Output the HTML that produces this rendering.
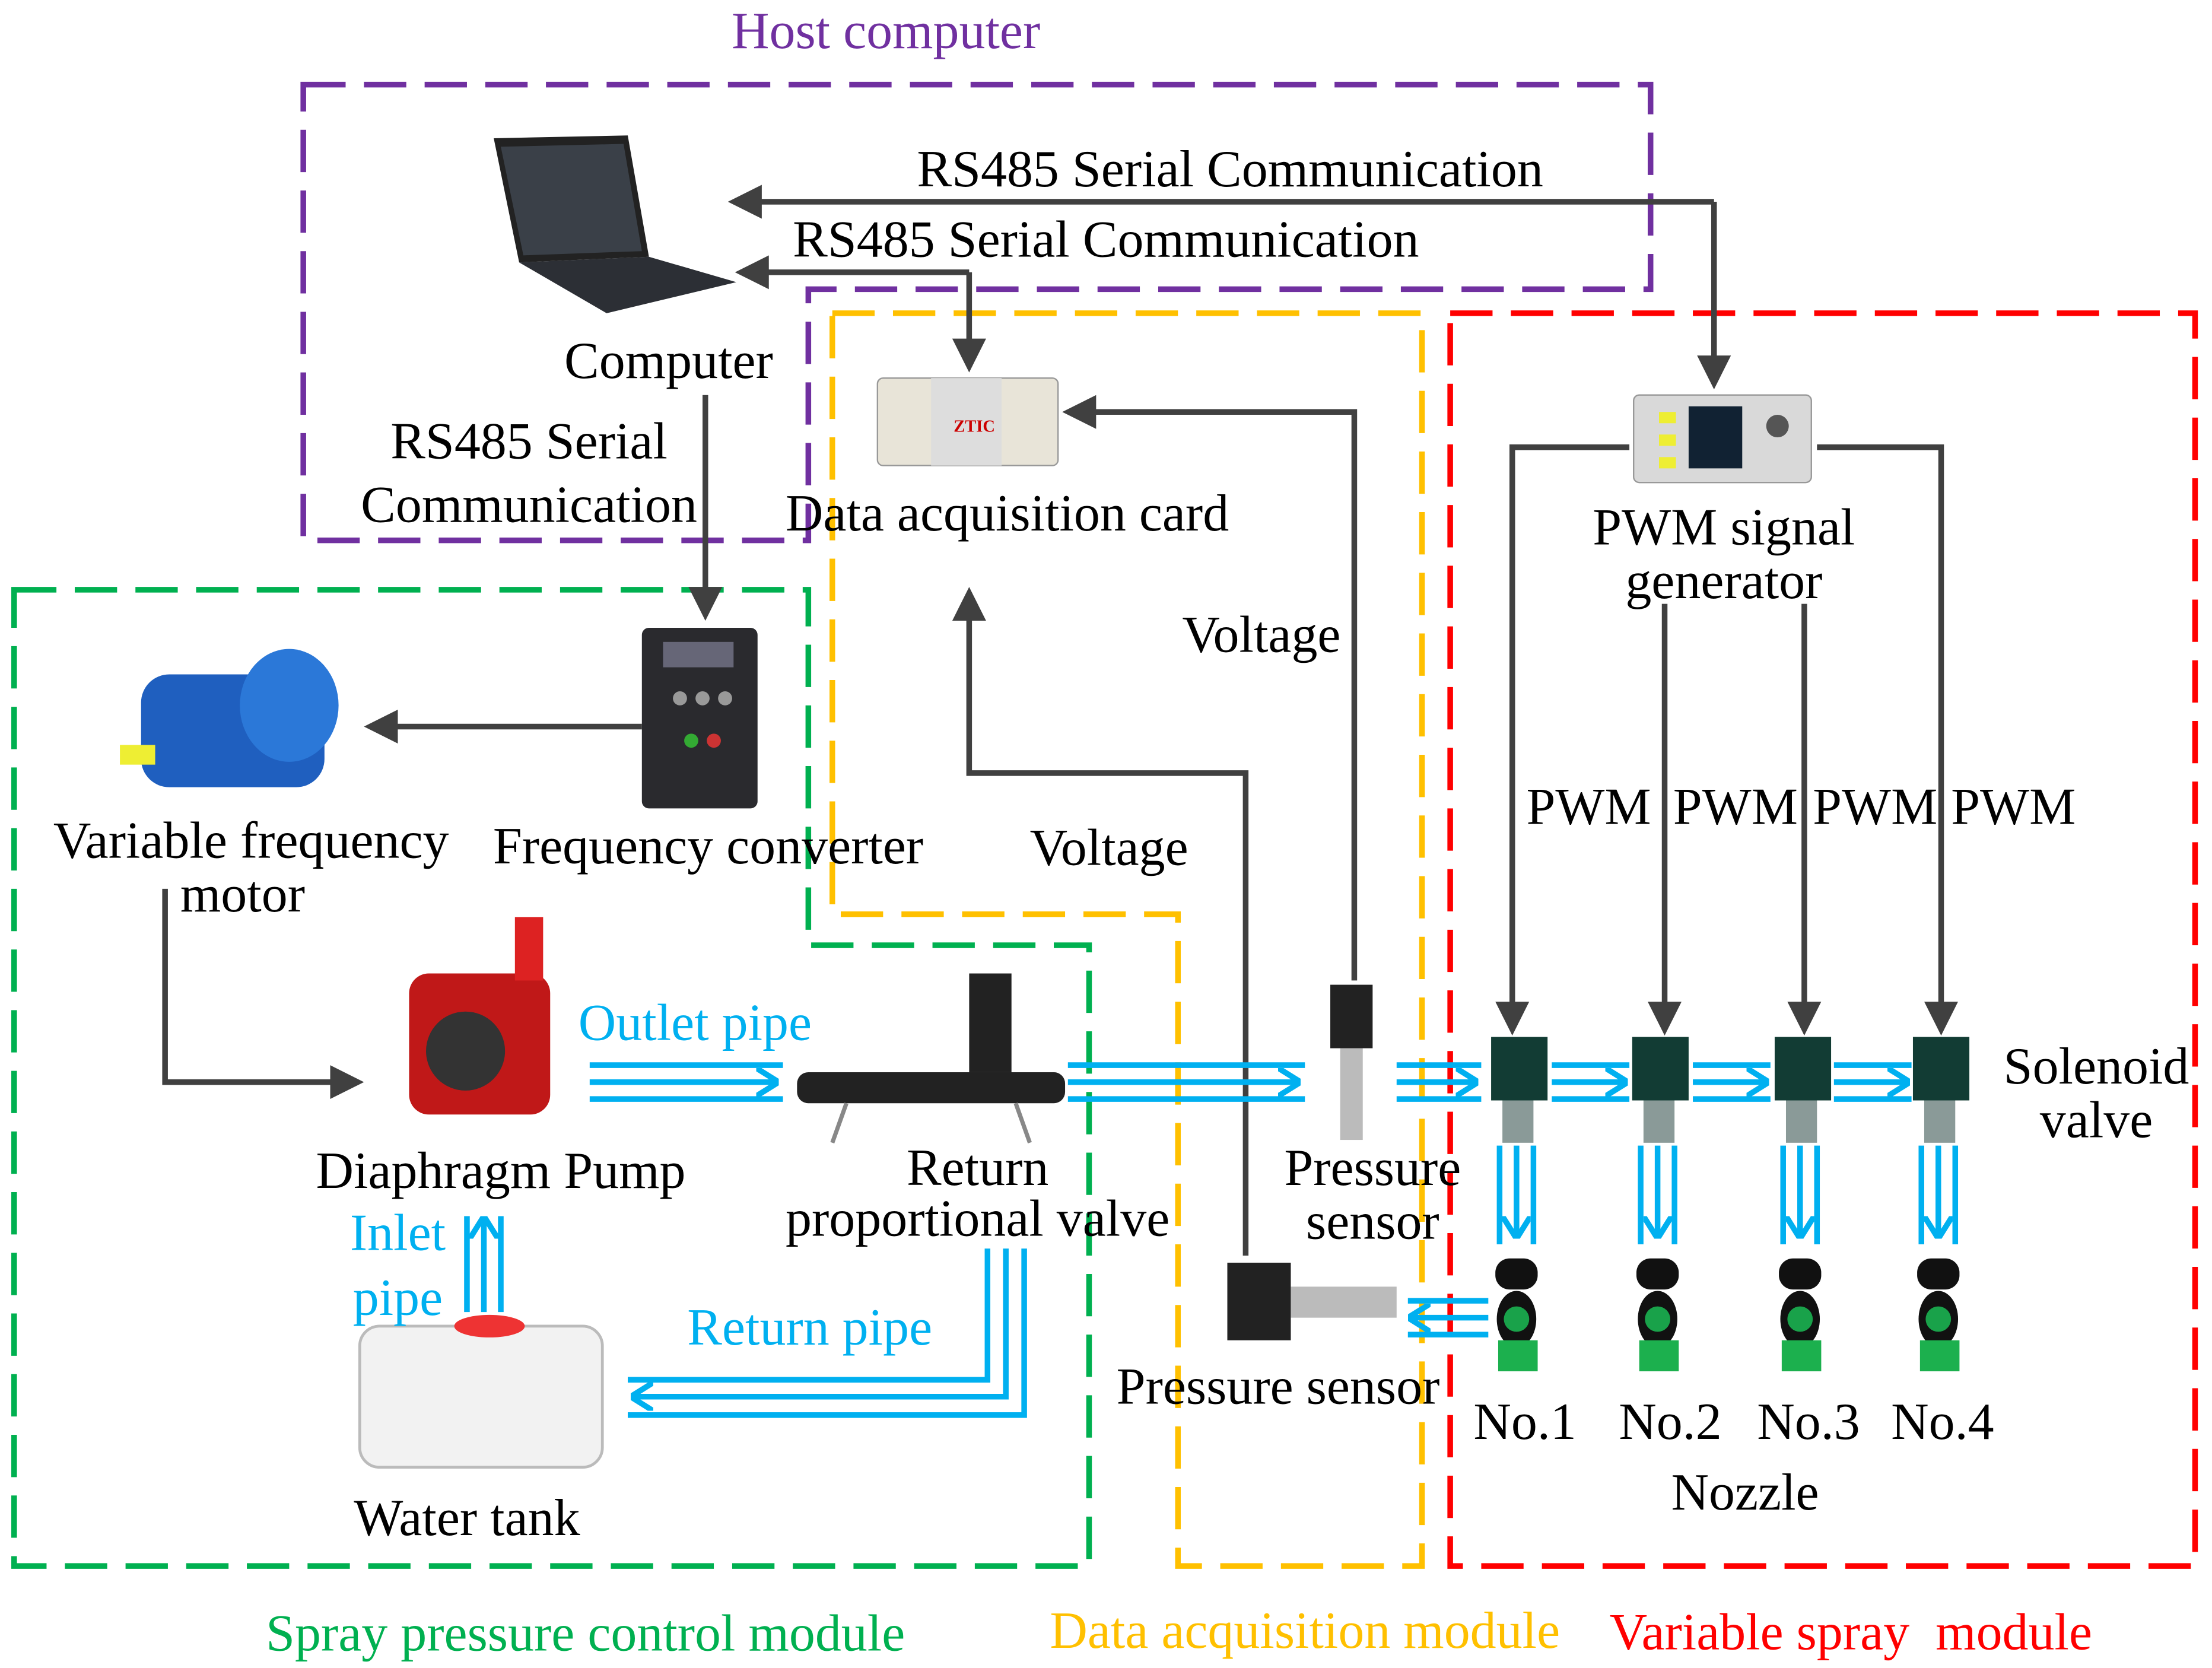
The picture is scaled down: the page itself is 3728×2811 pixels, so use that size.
<!DOCTYPE html>
<html><head><meta charset="utf-8"><style>
html,body{margin:0;padding:0;background:#fff;width:3728px;height:2811px;overflow:hidden}
svg{display:block}
text{font-family:"Liberation Serif",serif;font-size:37px}
</style></head><body>
<svg width="3728" height="2811" viewBox="0 0 1568 1182.3" preserveAspectRatio="none" xmlns="http://www.w3.org/2000/svg">
<defs>
<marker id="ag" markerWidth="6" markerHeight="6" refX="5" refY="3" orient="auto" markerUnits="strokeWidth"><path d="M0,0 L6,3 L0,6 z" fill="#404040"/></marker>
<marker id="ab" markerWidth="4" markerHeight="5" refX="3.5" refY="2.5" orient="auto" markerUnits="strokeWidth"><path d="M0,0 L4,2.5 L0,5" fill="none" stroke="#00b0f0" stroke-width="1"/></marker>
</defs>
<rect width="1568" height="1183" fill="#fff"/>
<g fill="none" stroke-width="4" stroke-dasharray="30 13">
<path d="M215,60 H1170 V205 H573 V383 H215 Z" stroke="#7030a0"/>
<path d="M590,222 H1008 V1110 H835 V648 H590 Z" stroke="#ffc000"/>
<path d="M10,418 H573 V670 H772 V1110 H10 Z" stroke="#00b050"/>
<path d="M1028,222 H1556 V1110 H1028 Z" stroke="#ff0000"/>
</g>
<g fill="none" stroke="#404040" stroke-width="4">
<path d="M1215,143 H520" marker-end="url(#ag)"/>
<path d="M1215,143 V272" marker-end="url(#ag)"/>
<path d="M687,193 H525" marker-end="url(#ag)"/>
<path d="M687,193 V260" marker-end="url(#ag)"/>
<path d="M500,280 V436" marker-end="url(#ag)"/>
<path d="M455,515 H262" marker-end="url(#ag)"/>
<path d="M117,630 V767 H254" marker-end="url(#ag)"/>
<path d="M960,695 V292 H757" marker-end="url(#ag)"/>
<path d="M883,890 V548 H687 V420" marker-end="url(#ag)"/>
<path d="M1155,317 H1072 V730" marker-end="url(#ag)"/>
<path d="M1288,317 H1376 V730" marker-end="url(#ag)"/>
<path d="M1180,428 V730" marker-end="url(#ag)"/>
<path d="M1279,428 V730" marker-end="url(#ag)"/>
</g>
<g fill="none" stroke="#00b0f0" stroke-width="4">
<path d="M418,755 H555 M418,779 H555"/><path d="M418,767 H550" marker-end="url(#ab)"/>
<path d="M757,755 H925 M757,779 H925"/><path d="M757,767 H920" marker-end="url(#ab)"/>
<path d="M990,755 H1050 M990,779 H1050"/><path d="M990,767 H1046" marker-end="url(#ab)"/>
<path d="M1100,755 H1155 M1100,779 H1155"/><path d="M1100,767 H1152" marker-end="url(#ab)"/>
<path d="M1200,755 H1255 M1200,779 H1255"/><path d="M1200,767 H1252" marker-end="url(#ab)"/>
<path d="M1300,755 H1355 M1300,779 H1355"/><path d="M1300,767 H1352" marker-end="url(#ab)"/>
<path d="M1063,812 V882 M1087,812 V882"/><path d="M1075,812 V876" marker-end="url(#ab)"/>
<path d="M1163,812 V882 M1187,812 V882"/><path d="M1175,812 V876" marker-end="url(#ab)"/>
<path d="M1264,812 V882 M1288,812 V882"/><path d="M1276,812 V876" marker-end="url(#ab)"/>
<path d="M1362,812 V882 M1386,812 V882"/><path d="M1374,812 V876" marker-end="url(#ab)"/>
<path d="M331,930 V862 M355,930 V862"/><path d="M343,930 V864" marker-end="url(#ab)"/>
<path d="M700,885 V978 H445 M726,885 V1003 H445"/><path d="M713,885 V990 H449" marker-end="url(#ab)"/>
<path d="M1055,922 H998 M1055,946 H998"/><path d="M1055,934 H1000" marker-end="url(#ab)"/>
</g>
<polygon points="350,98 445,96 460,182 368,186" fill="#222"/>
<polygon points="355,104 442,102 455,178 371,181" fill="#3a4048"/>
<polygon points="368,186 460,182 522,200 430,222" fill="#2c2f35"/>
<rect x="622" y="268" width="128" height="62" rx="4" fill="#e8e4d8" stroke="#999"/>
<rect x="660" y="268" width="50" height="62" fill="#ddd"/>
<text x="676" y="306" style="font-size:12px;font-weight:bold" fill="#c00">ZTIC</text>
<rect x="1158" y="280" width="126" height="62" rx="4" fill="#d9d9d9" stroke="#999"/>
<rect x="1197" y="288" width="38" height="44" fill="#123"/>
<circle cx="1260" cy="302" r="8" fill="#555"/>
<rect x="1176" y="292" width="12" height="8" fill="#ee3"/><rect x="1176" y="308" width="12" height="8" fill="#ee3"/><rect x="1176" y="324" width="12" height="8" fill="#ee3"/>
<rect x="100" y="478" width="130" height="80" rx="20" fill="#1f5fbf"/>
<ellipse cx="205" cy="500" rx="35" ry="40" fill="#2b78d8"/>
<rect x="85" y="528" width="25" height="14" fill="#ee3"/>
<rect x="455" y="445" width="82" height="128" rx="5" fill="#2a2a2e"/>
<rect x="470" y="455" width="50" height="18" fill="#667"/>
<circle cx="482" cy="495" r="5" fill="#999"/><circle cx="498" cy="495" r="5" fill="#999"/><circle cx="514" cy="495" r="5" fill="#999"/>
<circle cx="490" cy="525" r="5" fill="#3a3"/><circle cx="506" cy="525" r="5" fill="#c33"/>
<rect x="290" y="690" width="100" height="100" rx="14" fill="#c01818"/>
<circle cx="330" cy="745" r="28" fill="#333"/>
<rect x="365" y="650" width="20" height="45" fill="#d22"/>
<rect x="565" y="760" width="190" height="22" rx="8" fill="#222"/>
<rect x="687" y="690" width="30" height="70" fill="#222"/>
<path d="M600,782 L590,810 M720,782 L730,810" stroke="#888" stroke-width="3"/>
<rect x="255" y="940" width="172" height="100" rx="14" fill="#f2f2f2" stroke="#bbb" stroke-width="2"/>
<ellipse cx="347" cy="940" rx="25" ry="8" fill="#e33"/>
<rect x="943" y="698" width="30" height="45" fill="#222"/>
<rect x="950" y="743" width="16" height="65" fill="#bbb"/>
<rect x="870" y="895" width="45" height="55" fill="#222"/>
<rect x="915" y="912" width="75" height="22" fill="#bbb"/>
<g id="sv">
<rect x="1057" y="735" width="40" height="45" fill="#123c34"/>
<rect x="1065" y="780" width="22" height="30" fill="#8a9a98"/>
<rect x="1060" y="892" width="30" height="22" rx="10" fill="#111"/>
<ellipse cx="1075" cy="935" rx="14" ry="20" fill="#111"/>
<circle cx="1075" cy="935" r="9" fill="#19a24a"/>
<rect x="1062" y="950" width="28" height="22" fill="#1cb04e"/>
</g>
<use href="#sv" x="100"/><use href="#sv" x="201"/><use href="#sv" x="299"/>
<g fill="#000">
<text x="628" y="34" text-anchor="middle" fill="#7030a0">Host computer</text>
<text x="650" y="132">RS485 Serial Communication</text>
<text x="562" y="182">RS485 Serial Communication</text>
<text x="474" y="268" text-anchor="middle">Computer</text>
<text x="375" y="325" text-anchor="middle">RS485 Serial</text>
<text x="375" y="370" text-anchor="middle">Communication</text>
<text x="714" y="376" text-anchor="middle">Data acquisition card</text>
<text x="1222" y="386" text-anchor="middle">PWM signal</text>
<text x="1222" y="424" text-anchor="middle">generator</text>
<text x="838" y="462">Voltage</text>
<text x="730" y="613">Voltage</text>
<text x="178" y="608" text-anchor="middle">Variable frequency</text>
<text x="172" y="646" text-anchor="middle">motor</text>
<text x="502" y="612" text-anchor="middle">Frequency converter</text>
<text x="1082" y="584">PWM</text><text x="1186" y="584">PWM</text><text x="1285" y="584">PWM</text><text x="1383" y="584">PWM</text>
<text x="410" y="737" fill="#00b0f0">Outlet pipe</text>
<text x="1486" y="768" text-anchor="middle">Solenoid</text>
<text x="1486" y="806" text-anchor="middle">valve</text>
<text x="355" y="842" text-anchor="middle">Diaphragm Pump</text>
<text x="693" y="840" text-anchor="middle">Return</text>
<text x="693" y="876" text-anchor="middle">proportional valve</text>
<text x="973" y="840" text-anchor="middle">Pressure</text>
<text x="973" y="878" text-anchor="middle">sensor</text>
<text x="282" y="886" text-anchor="middle" fill="#00b0f0">Inlet</text>
<text x="282" y="932" text-anchor="middle" fill="#00b0f0">pipe</text>
<text x="574" y="953" text-anchor="middle" fill="#00b0f0">Return pipe</text>
<text x="906" y="995" text-anchor="middle">Pressure sensor</text>
<text x="1081" y="1020" text-anchor="middle">No.1</text>
<text x="1184" y="1020" text-anchor="middle">No.2</text>
<text x="1282" y="1020" text-anchor="middle">No.3</text>
<text x="1377" y="1020" text-anchor="middle">No.4</text>
<text x="1237" y="1070" text-anchor="middle">Nozzle</text>
<text x="331" y="1088" text-anchor="middle">Water tank</text>
<text x="415" y="1170" text-anchor="middle" fill="#00b050">Spray pressure control module</text>
<text x="925" y="1168" text-anchor="middle" fill="#ffc000">Data acquisition module</text>
<text x="1312" y="1169" text-anchor="middle" fill="#ff0000">Variable spray&#160; module</text>
</g>
</svg>
</body></html>
